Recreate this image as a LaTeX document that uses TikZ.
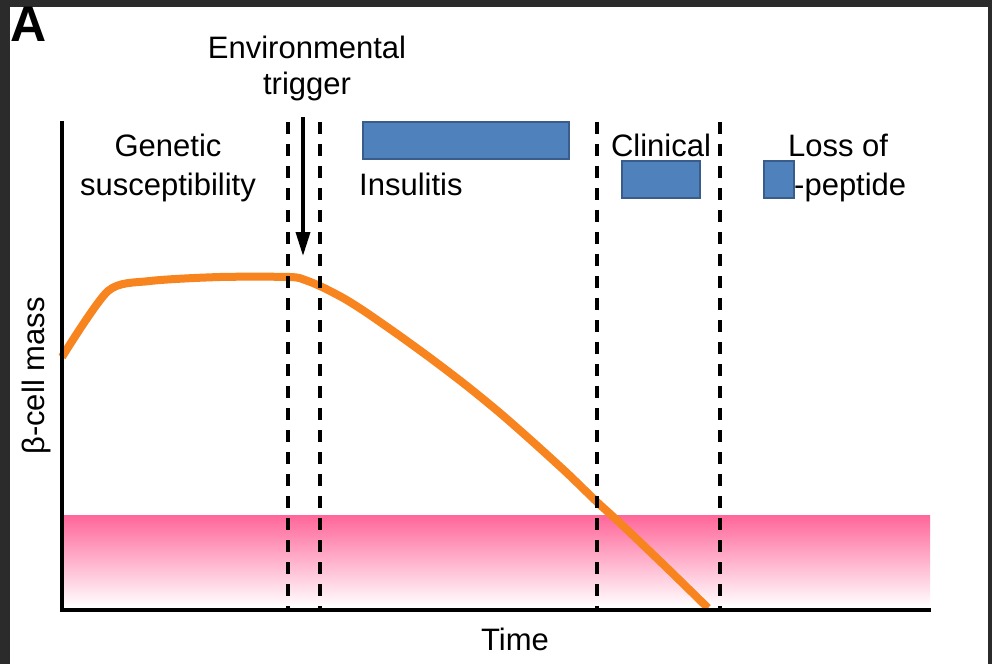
\documentclass[tikz,border=0pt]{standalone}
\usepackage{fontspec}
\setmainfont{Liberation Sans}
\usetikzlibrary{arrows.meta}
\definecolor{framecol}{HTML}{2B2B2B}
\definecolor{curvecol}{HTML}{F7841F}
\definecolor{boxfill}{HTML}{4F81BD}
\definecolor{boxedge}{HTML}{385D8A}
\definecolor{bandcol}{HTML}{FF6699}
\begin{document}
\begin{tikzpicture}[x=1pt,y=-1pt,
  lbl/.style={font=\fontsize{31}{34}\selectfont, inner sep=0pt, anchor=base},
  vdash/.style={line width=4pt, dash pattern=on 12pt off 10pt},
  axisline/.style={line width=4.5pt, line join=miter},
  cover/.style={draw=boxedge, fill=boxfill, line width=2pt, inner sep=0pt}]
\useasboundingbox (0,0) rectangle (992,664);
\fill[framecol] (0,0) rectangle (992,664);
\fill[white] (10,7) rectangle (988,664);
% pink band
\shade[top color=bandcol, bottom color=white] (62,515) rectangle (930,607);
% curve
\draw[curvecol, line width=8pt, line join=round] plot[smooth, tension=0.45] coordinates {(62,357) (108,291) (150,281) (220,277) (290,277) (305,280) (322,287) (345,299) (367,313) (400,336) (433,360) (467,386) (500,413) (533,442) (567,473) (597,502) (620,523) (665,566) (708,608)};
% dashed lines
\coordinate (d1t) at (288,122); \coordinate (d1b) at (288,610);
\coordinate (d2t) at (320,122); \coordinate (d2b) at (320,610);
\coordinate (d3t) at (597,122); \coordinate (d3b) at (597,610);
\coordinate (d4t) at (720,122); \coordinate (d4b) at (720,610);
\draw[vdash] (d1t) -- (d1b);
\draw[vdash] (d2t) -- (d2b);
\draw[vdash] (d3t) -- (d3b);
\draw[vdash] (d4t) -- (d4b);
% axes
\coordinate (ytop) at (62,121);
\coordinate (origin) at (62,610);
\coordinate (xend) at (931,610);
\draw[axisline] (ytop) -- (origin) -- (xend);
% labels
\node[font=\fontsize{50}{50}\selectfont\bfseries, inner sep=0pt, anchor=north west] (panel) at (10,7) {A};
\node[lbl] (env) at (307,58) {Environmental};
\node[lbl] (trig) at (307,94) {trigger};
\node[lbl] (gen1) at (168,156) {Genetic};
\node[lbl] (gen2) at (168,195) {susceptibility};
\node[lbl, anchor=base west] (ins) at (359,195) {Insulitis};
\node[lbl] (clin) at (661,156) {Clinical};
\node[lbl] (loss) at (838,156) {Loss of};
\node[lbl, anchor=base west] (pep) at (794,195) {-peptide};
\node[lbl] (time) at (515,650) {Time};
\node[lbl, rotate=90] (ylab) at (44,376) {β-cell mass};
% cover boxes
\node[cover, minimum width=206pt, minimum height=37pt] (box1) at (466,140.5) {};
\node[cover, minimum width=78pt, minimum height=37pt] (box2) at (661,179.5) {};
\node[cover, minimum width=30pt, minimum height=37pt] (box3) at (779,179.5) {};
% arrow
\coordinate (atop) at (303,117);
\coordinate (abot) at (303,256);
\draw[line width=3.5pt, -{Triangle[width=14pt,length=24pt]}] (atop) -- (abot);
\end{tikzpicture}
\end{document}
